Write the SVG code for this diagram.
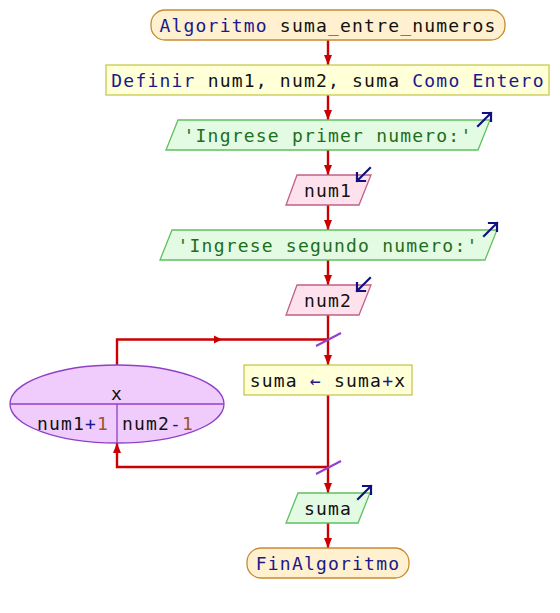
<svg xmlns="http://www.w3.org/2000/svg" width="560" height="613" viewBox="0 0 560 613">
<style>
text{font-family:"DejaVu Sans Mono","Liberation Mono",monospace;font-size:18px;letter-spacing:1.2px;dominant-baseline:central;text-anchor:middle;fill:#111}
.kw{fill:#1a1a8a}
.str{fill:#1e6e1e}
.num{fill:#a0522d}
.op{fill:#1a1a8a}
.term{fill:#fff0d0;stroke:#c88a30;stroke-width:1.3}
.proc{fill:#ffffd8;stroke:#c8c850;stroke-width:1.3}
.out{fill:#e2fbe2;stroke:#60c060;stroke-width:1.3}
.in{fill:#fde2ee;stroke:#c06088;stroke-width:1.3}
.loop{fill:#f0ccfc;stroke:#9040c8;stroke-width:1.3}
.ln{fill:none;stroke:#cc0000;stroke-width:2.4}
.ah{fill:#cc0000}
.slash{stroke:#9040d0;stroke-width:2}
.io{fill:none;stroke:#101080;stroke-width:2.2;stroke-linecap:square}
</style>
<defs>
<marker id="arr" viewBox="0 0 10 8" refX="10" refY="4" markerWidth="10" markerHeight="8" markerUnits="userSpaceOnUse" orient="auto">
<path d="M0,0 L10,4 L0,8 Z" class="ah"/>
</marker>
<path id="ioUp" class="io" d="M0,13 L13,0 M5,0 H13 V8"/>
<path id="ioDown" class="io" d="M13,0 L0,13 M0,5 V13 H8"/>
</defs>
<g id="connectors">
<line class="ln" x1="328" y1="40" x2="328" y2="65" marker-end="url(#arr)"/>
<line class="ln" x1="328" y1="95" x2="328" y2="120" marker-end="url(#arr)"/>
<line class="ln" x1="328" y1="150" x2="328" y2="175" marker-end="url(#arr)"/>
<line class="ln" x1="328" y1="205" x2="328" y2="230" marker-end="url(#arr)"/>
<line class="ln" x1="328" y1="260" x2="328" y2="285" marker-end="url(#arr)"/>
<line class="ln" x1="328" y1="315" x2="328" y2="365" marker-end="url(#arr)"/>
<line class="ln" x1="328" y1="395" x2="328" y2="493" marker-end="url(#arr)"/>
<line class="ln" x1="328" y1="523" x2="328" y2="548" marker-end="url(#arr)"/>
<path class="ln" d="M117,365 V339.5 H328"/>
<polygon class="ah" points="214,335.5 222,339.5 214,343.5"/>
<path class="ln" d="M328,467 H117 V443" marker-end="url(#arr)"/>
<line class="slash" x1="316" y1="346" x2="341" y2="333"/>
<line class="slash" x1="316" y1="474" x2="341" y2="461"/>
</g>
<g id="start">
<rect class="term" x="151" y="10" width="354" height="30" rx="14"/>
<text x="328" y="25"><tspan class="kw">Algoritmo</tspan> suma_entre_numeros</text>
</g>
<g id="define">
<rect class="proc" x="106" y="65" width="443" height="30"/>
<text x="328" y="80"><tspan class="kw">Definir</tspan> num1, num2, suma <tspan class="kw">Como Entero</tspan></text>
</g>
<g id="out1">
<polygon class="out" points="178,120 490,120 478,150 166,150"/>
<text x="328" y="135" class="str">'Ingrese primer numero:'</text>
<use href="#ioUp" x="478" y="113"/>
</g>
<g id="in1">
<polygon class="in" points="297,175 371,175 359,205 286,205"/>
<text x="328" y="190">num1</text>
<use href="#ioDown" x="357" y="168"/>
</g>
<g id="out2">
<polygon class="out" points="172,230 497,230 485,260 160,260"/>
<text x="328" y="245" class="str">'Ingrese segundo numero:'</text>
<use href="#ioUp" x="484" y="223"/>
</g>
<g id="in2">
<polygon class="in" points="297,285 371,285 359,315 286,315"/>
<text x="328" y="300">num2</text>
<use href="#ioDown" x="357" y="278"/>
</g>
<g id="for">
<ellipse class="loop" cx="117" cy="404" rx="107" ry="39"/>
<line class="loop" x1="10" y1="404" x2="224" y2="404"/>
<line class="loop" x1="117" y1="404" x2="117" y2="443"/>
<text x="117" y="393">x</text>
<text x="73" y="423">num1<tspan class="op">+</tspan><tspan class="num">1</tspan></text>
<text x="158" y="423">num2<tspan class="op">-</tspan><tspan class="num">1</tspan></text>
</g>
<g id="assign">
<rect class="proc" x="244" y="365" width="168" height="30"/>
<text x="328" y="380">suma <tspan class="op">←</tspan> suma<tspan class="op">+</tspan>x</text>
</g>
<g id="out3">
<polygon class="out" points="298,493 370,493 358,523 286,523"/>
<text x="328" y="508">suma</text>
<use href="#ioUp" x="358" y="486"/>
</g>
<g id="end">
<rect class="term" x="247" y="548" width="162" height="30" rx="14"/>
<text x="328" y="563" class="kw">FinAlgoritmo</text>
</g>
</svg>
